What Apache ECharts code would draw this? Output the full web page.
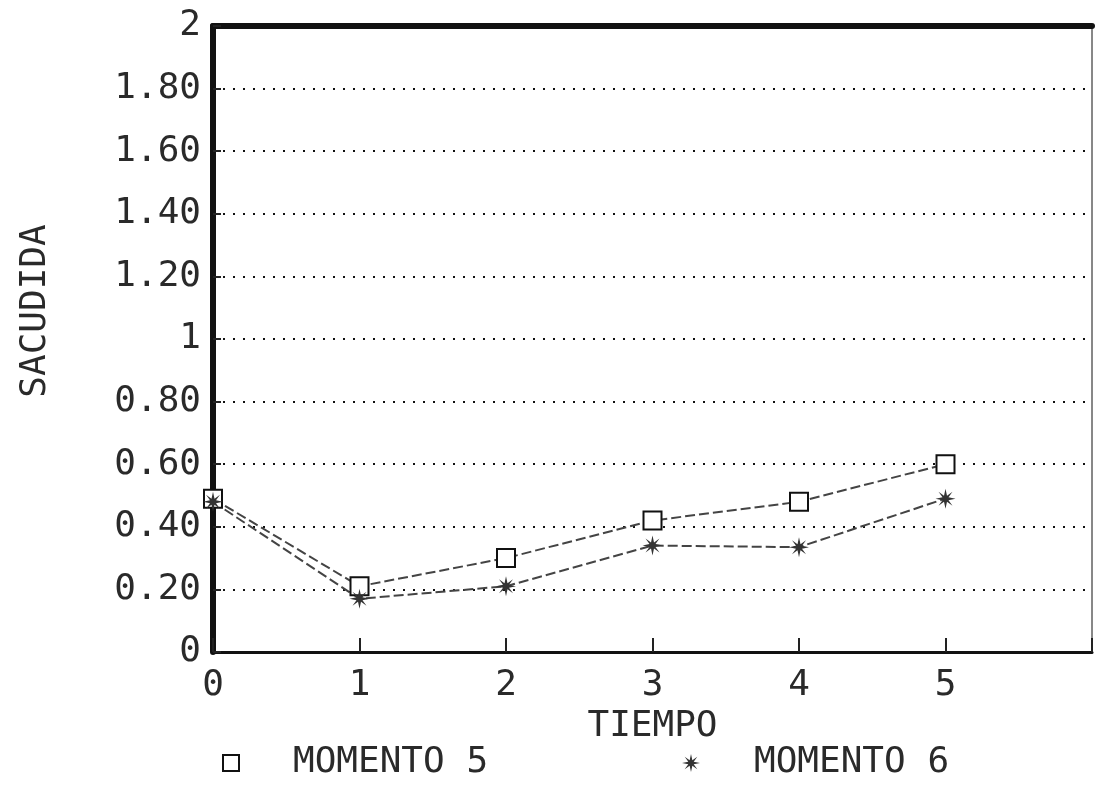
<!DOCTYPE html>
<html>
<head>
<meta charset="utf-8">
<script src="https://cdn.jsdelivr.net/npm/echarts@6/dist/echarts.min.js"></script>
<style>html,body{margin:0;padding:0;background:#fff;}#c{width:1095px;height:789px;}</style>
</head>
<body>
<div id="c"></div>
<script>
var tiempo = [0, 1, 2, 3, 4, 5];
var momento5 = [0.49, 0.21, 0.30, 0.42, 0.48, 0.60];
var momento6 = [0.48, 0.17, 0.21, 0.34, 0.335, 0.49];
var xTickLabels = ['0', '1', '2', '3', '4', '5', ''];
var yTickLabels = ['0', '0.20', '0.40', '0.60', '0.80', '1', '1.20', '1.40', '1.60', '1.80', '2'];
var seriesNames = ['MOMENTO 5', 'MOMENTO 6'];
var xTitle = 'TIEMPO';
var yTitle = 'SACUDIDA';

var FONT = '"DejaVu Sans Mono", monospace';
var starPath = 'path://M10,0 L11.5,7 L17,3 L13,8.5 L20,10 L13,11.5 L17,17 L11.5,13 L10,20 L8.5,13 L3,17 L7,11.5 L0,10 L7,8.5 L3,3 L8.5,7 Z';
var squarePath = 'path://M0,0 L20,0 L20,20 L0,20 Z';

function pairs(xs, ys) { return xs.map(function (x, i) { return [x, ys[i]]; }); }

var chart = echarts.init(document.getElementById('c'));
chart.setOption({
  backgroundColor: '#fff',
  animation: false,
  grid: { left: 213, right: 3, top: 26, bottom: 137, show: true, borderColor: '#111', borderWidth: 1 },
  xAxis: [{
    type: 'value', min: 0, max: 6, interval: 1,
    name: xTitle, nameLocation: 'middle', nameGap: 45,
    nameTextStyle: { fontFamily: FONT, fontSize: 36, color: '#2a2a2a' },
    axisLine: { lineStyle: { color: '#111', width: 3 } },
    axisTick: { inside: true, length: 14, lineStyle: { color: '#222', width: 2 } },
    axisLabel: { margin: 16, fontFamily: FONT, fontSize: 36, color: '#2a2a2a',
      formatter: function (v) { return xTickLabels[Math.round(v)] || ''; } },
    splitLine: { show: false }
  }, {
    type: 'value', min: 0, max: 6, position: 'top',
    axisLine: { show: true, lineStyle: { color: '#111', width: 6 } },
    axisTick: { show: false }, axisLabel: { show: false }, splitLine: { show: false }
  }],
  yAxis: {
    type: 'value', min: 0, max: 2, interval: 0.2,
    axisLine: { show: true, lineStyle: { color: '#111', width: 6 } },
    axisTick: { show: true, inside: true, length: 8, lineStyle: { color: '#222', width: 2 } },
    axisLabel: { margin: 12, fontFamily: FONT, fontSize: 36, color: '#2a2a2a',
      formatter: function (v) { return yTickLabels[Math.round(v * 5)]; } },
    splitLine: { show: true, lineStyle: { color: '#111', width: 2, type: [2, 8] } }
  },
  legend: [{
    left: 217, top: 740, itemWidth: 16, itemHeight: 16, selectedMode: false,
    textStyle: { fontFamily: FONT, fontSize: 36, color: '#2a2a2a', padding: [0, 0, 0, 49] },
    data: [{ name: seriesNames[0], icon: squarePath,
      itemStyle: { color: 'rgba(0,0,0,0)', borderColor: '#111', borderWidth: 2 } }]
  }, {
    left: 677, top: 740, itemWidth: 18, itemHeight: 18, selectedMode: false,
    textStyle: { fontFamily: FONT, fontSize: 36, color: '#2a2a2a', padding: [0, 0, 0, 49] },
    data: [{ name: seriesNames[1], icon: starPath, itemStyle: { color: '#333', borderWidth: 0 } }]
  }],
  graphic: [{
    type: 'text', x: 36, y: 311, rotation: Math.PI / 2,
    style: { text: yTitle, fontFamily: FONT, fontSize: 36, fill: '#2a2a2a', align: 'center', verticalAlign: 'middle' }
  }],
  series: [{
    name: seriesNames[0], type: 'line', data: pairs(tiempo, momento5),
    symbol: 'emptyRect', symbolSize: 18,
    lineStyle: { color: '#444', width: 2, type: [10, 4] },
    itemStyle: { color: '#111', borderColor: '#111', borderWidth: 2 }
  }, {
    name: seriesNames[1], type: 'line', data: pairs(tiempo, momento6),
    symbol: starPath, symbolSize: 20,
    lineStyle: { color: '#444', width: 2, type: [10, 4] },
    itemStyle: { color: '#333', borderWidth: 0 }
  }]
});
</script>
</body>
</html>
